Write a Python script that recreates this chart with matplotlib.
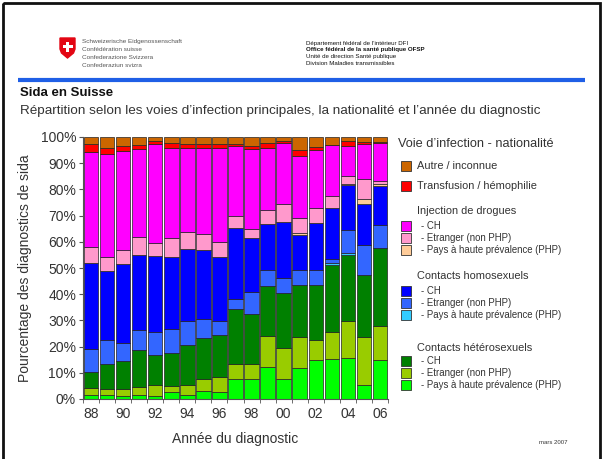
import matplotlib
matplotlib.use("Agg")
import matplotlib.pyplot as plt
from matplotlib.patches import Rectangle, Polygon
import numpy as np

plt.rcParams['font.family'] = ['Liberation Sans', 'DejaVu Sans']

years = list(range(1988, 2007))
tick_labels = ['88', '90', '92', '94', '96', '98', '00', '02', '04', '06']

# Segment shares (%) per year, bottom to top
het_php  = [1.7, 1.7, 1.2, 1.4, 1.1, 2.5, 1.7, 3.0, 2.5, 7.8, 7.6, 12.3, 7.6, 11.7, 14.8, 15.2, 15.5, 5.3, 14.8]
het_etr  = [2.6, 2.3, 2.8, 3.3, 4.4, 2.5, 3.8, 4.8, 6.0, 5.5, 5.6, 11.7, 11.9, 11.8, 7.9, 10.2, 14.4, 18.4, 13.2]
het_ch   = [6.1, 9.3, 10.5, 14.0, 11.2, 12.5, 15.1, 15.3, 15.9, 20.9, 19.3, 19.2, 20.8, 19.9, 21.0, 25.7, 25.0, 23.8, 29.5]
homo_php = [0, 0, 0, 0, 0, 0, 0, 0, 0, 0, 0, 0, 0, 0, 0, 0.9, 1.0, 0, 0]
homo_etr = [8.6, 9.2, 7.0, 7.5, 9.0, 9.1, 9.1, 7.3, 5.3, 3.9, 8.2, 6.0, 5.7, 5.8, 5.5, 1.3, 8.6, 11.2, 9.1]
homo_ch  = [32.8, 26.5, 30.0, 28.7, 28.9, 27.5, 27.4, 26.3, 24.6, 27.0, 20.6, 17.5, 21.4, 13.4, 17.8, 19.6, 17.0, 15.6, 14.7]
idu_php  = [0, 0, 0, 0, 0, 0, 0, 0, 0, 0, 0, 0, 0, 0.8, 0, 0, 0.7, 2.1, 0.9]
idu_etr  = [6.3, 5.3, 5.2, 6.8, 4.8, 7.2, 6.8, 6.1, 5.5, 4.9, 3.6, 5.3, 7.2, 5.5, 6.0, 4.4, 2.8, 7.7, 0.9]
idu_ch   = [36.1, 39.1, 38.0, 33.6, 37.8, 34.4, 31.8, 32.9, 36.1, 26.7, 30.5, 23.9, 23.0, 23.7, 22.1, 19.5, 11.6, 13.1, 14.7]
transf   = [3.0, 2.5, 1.9, 1.7, 1.3, 2.2, 1.6, 1.8, 1.4, 0.6, 1.2, 1.7, 1.0, 2.3, 0.9, 0.3, 1.7, 0.9, 0.3]
autre    = [2.8, 4.1, 3.4, 3.0, 1.5, 2.1, 2.7, 2.5, 2.7, 2.7, 3.4, 2.4, 1.4, 5.1, 4.0, 2.9, 1.7, 1.9, 1.9]

series = [het_php, het_etr, het_ch, homo_php, homo_etr, homo_ch,
          idu_php, idu_etr, idu_ch, transf, autre]
colors = ['#00ff00', '#99cc00', '#008000', '#33ccff', '#3366ff', '#0000ff',
          '#ffcc99', '#ff99cc', '#ff00ff', '#ff0000', '#cc6600']

W, H = 609, 459
fig = plt.figure(figsize=(W / 100, H / 100), dpi=100)

# background overlay in pixel coordinates
bg = fig.add_axes([0, 0, 1, 1], zorder=0)
bg.set_xlim(0, W)
bg.set_ylim(H, 0)
bg.axis('off')

# frame
bg.add_patch(Rectangle((3, 3), 597, 470, fill=False, edgecolor='#111111', lw=2))

# logo shield
shield = Polygon([(60, 38), (75, 38), (75, 49), (73.5, 53), (67.5, 58), (61.5, 53), (60, 49)],
                 closed=True, facecolor='#e30613', edgecolor='#e30613')
bg.add_patch(shield)
bg.add_patch(Rectangle((66, 41.5), 3, 10, facecolor='white', edgecolor='none'))
bg.add_patch(Rectangle((62.5, 45), 10, 3, facecolor='white', edgecolor='none'))

for i, t in enumerate(['Schweizerische Eidgenossenschaft', 'Confédération suisse',
                       'Confederazione Svizzera', 'Confederaziun svizra']):
    bg.text(82, 42 + i * 7.7, t, fontsize=4.6, color='#555555', va='center', ha='left')

right_lines = ['Département fédéral de l\u2019intérieur DFI',
               'Office fédéral de la santé publique OFSP',
               'Unité de direction Santé publique',
               'Division Maladies transmissibles']
for i, t in enumerate(right_lines):
    bg.text(306, 43 + i * 6.7, t, fontsize=4.4, color='#111111', va='center', ha='left',
            fontweight='bold' if i == 1 else 'normal')

bg.plot([18, 585], [80, 80], color='#1f5fe6', lw=3, solid_capstyle='butt')

bg.text(20, 93, 'Sida en Suisse', fontsize=9.5, fontweight='bold', color='#111111',
        va='center', ha='left')
bg.text(20, 111, 'Répartition selon les voies d\u2019infection principales, la nationalité et l\u2019année du diagnostic',
        fontsize=9.7, color='#333333', va='center', ha='left')

bg.text(553, 442, 'mars 2007', fontsize=4.3, color='#333333', va='center', ha='center')

# legend
bg.text(398, 144, 'Voie d\u2019infection - nationalité', fontsize=9.2, color='#333333', va='center')

def patch(y, c):
    bg.add_patch(Rectangle((401, y - 5), 10, 10, facecolor=c, edgecolor='#333333', lw=0.6))

patch(166, colors[10]); bg.text(417, 166, 'Autre / inconnue', fontsize=7.9, color='#333333', va='center')
patch(186, colors[9]); bg.text(417, 186, 'Transfusion / hémophilie', fontsize=7.9, color='#333333', va='center')

groups = [('Injection de drogues', 211, [226, 238, 250], [colors[8], colors[7], colors[6]]),
          ('Contacts homosexuels', 276, [291, 303, 315], [colors[5], colors[4], colors[3]]),
          ('Contacts hétérosexuels', 348, [361, 373, 385], [colors[2], colors[1], colors[0]])]
subs = ['- CH', '- Etranger (non PHP)', '- Pays à haute prévalence (PHP)']
for name, yh, ys, cs in groups:
    bg.text(417, yh, name, fontsize=7.9, color='#333333', va='center')
    for y, c, s in zip(ys, cs, subs):
        patch(y, c)
        bg.text(421, y, s, fontsize=6.9, color='#333333', va='center')

# main axes
ax = fig.add_axes([83 / W, 1 - 399 / H, 305 / W, 262 / H], zorder=2)
ax.patch.set_alpha(0)
x = np.arange(len(years))
bottom = np.zeros(len(years))
for vals, c in zip(series, colors):
    v = np.array(vals)
    ax.bar(x, v, bottom=bottom, width=0.9, color=c, edgecolor='#222222', linewidth=0.5)
    bottom += v

ax.set_xlim(-0.5, len(years) - 0.5)
ax.set_ylim(0, 100)
ax.set_yticks(np.arange(0, 101, 10))
ax.set_yticklabels([f'{v}%' for v in range(0, 101, 10)])
ax.set_xticks(np.arange(0, len(years), 2))
ax.set_xticklabels(tick_labels)
ax.set_xticks(np.arange(-0.5, len(years), 1), minor=True)
ax.tick_params(axis='x', which='major', length=0, labelsize=10, labelcolor='#333333', pad=6)
ax.tick_params(axis='x', which='minor', length=3, color='#555555')
ax.tick_params(axis='y', length=3, color='#555555', labelsize=10, labelcolor='#333333', pad=2)
for s in ['top', 'right']:
    ax.spines[s].set_visible(False)
ax.spines['left'].set_color('#555555')
ax.spines['bottom'].set_color('#555555')
ax.set_ylabel('Pourcentage des diagnostics de sida', fontsize=10, color='#333333', labelpad=6)
ax.set_xlabel('Année du diagnostic', fontsize=10, color='#333333', labelpad=8)

fig.savefig('out.png', dpi=100)
